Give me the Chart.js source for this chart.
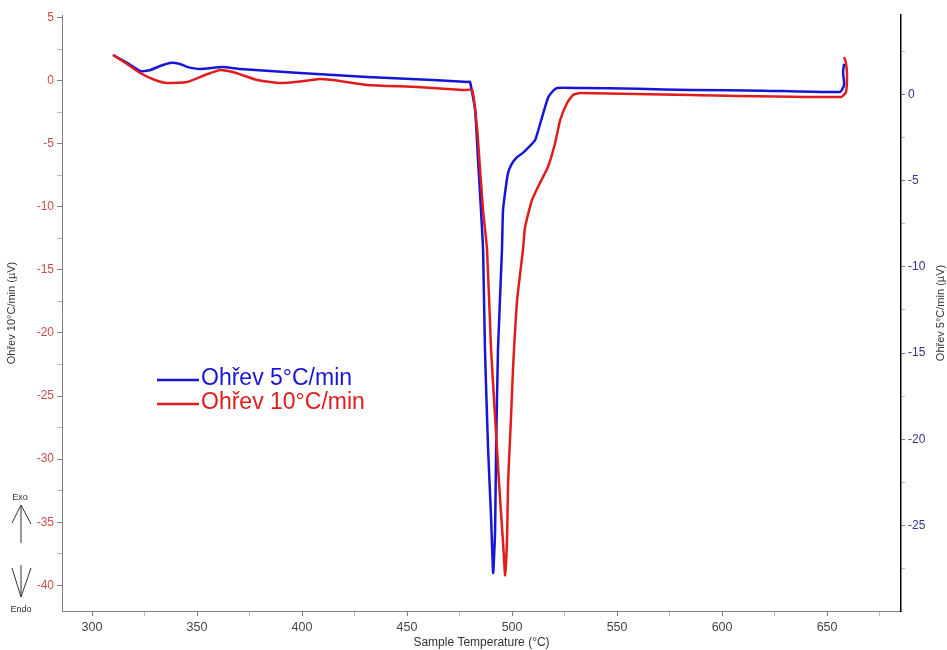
<!DOCTYPE html>
<html>
<head>
<meta charset="utf-8">
<script src="https://cdn.jsdelivr.net/npm/chart.js@4/dist/chart.umd.min.js"></script>
<style>
  html, body { margin: 0; padding: 0; background: #fff; }
  #wrap { width: 947px; height: 650px; }
</style>
</head>
<body>
<div id="wrap"><canvas id="dsc"></canvas></div>
<script>
// Heating at 5 °C/min (right axis, µV)
const tempBlue = [310, 316.7, 322.9, 327.6, 332.4, 337.1, 341.9, 345.2, 351.4, 362.4, 370.5, 399, 431, 462.4, 479,
  480, 482.4, 483.8, 485.2, 486.2, 487.1, 488.6, 490, 491, 491.9, 492.4, 493.3, 495.2, 495.7, 497, 498.1, 500, 502.4,
  505, 507.6, 511, 514.3, 517.1, 519.5, 521.4, 532.4, 560, 585, 620, 656.2, 658.1, 657.6, 658.1];
const valBlue = [2.29, 1.83, 1.36, 1.41, 1.65, 1.83, 1.77, 1.60, 1.48, 1.60, 1.48, 1.25, 1.02, 0.84, 0.73,
  0.73, -0.90, -3.8, -6.7, -9.0, -14.8, -20.6, -24.5, -27.75, -25.4, -20.6, -14.8, -9.0, -6.7, -5.4, -4.55, -4.0, -3.63,
  -3.4, -3.10, -2.64, -1.31, -0.20, 0.20, 0.38, 0.38, 0.33, 0.26, 0.22, 0.15, 0.55, 1.3, 1.77];

// Heating at 10 °C/min (left axis, µV)
const tempRed = [310, 316.7, 322.9, 330, 335.7, 345.2, 353.8, 361, 367.1, 378.6, 389.5, 399, 408.6, 418, 431,
  454.8, 476.7, 481, 483.3, 484.8, 486.2, 488.1, 490, 491.9, 493.8, 495.7, 496.7, 497.6, 498.1, 499.5, 500.5,
  502.4, 505.2, 506.2, 509.5, 513.3, 517.1, 520.5, 522.9, 526.2, 529, 532.4, 585, 656.7, 659, 659.5, 659, 658.1];
const valRed = [2.04, 1.32, 0.61, 0.06, -0.18, -0.10, 0.45, 0.85, 0.69, 0.06, -0.18, -0.06, 0.13, -0.02, -0.34,
  -0.50, -0.74, -0.74, -3.67, -7.1, -10.3, -13.4, -21.3, -26.6, -31.9, -36.6, -39.2, -36.4, -31.9, -26.7, -22.7,
  -17.4, -13.4, -11.6, -9.45, -8.1, -6.84, -4.94, -3.12, -1.77, -1.13, -0.98, -1.13, -1.29, -0.9, 0.45, 1.4, 1.88];

// tick positions (labels only on the major ones)
const xTicks = [300, 325, 350, 375, 400, 425, 450, 475, 500, 525, 550, 575, 600, 625, 650, 675];
const yLeftTicks = [-40, -37.5, -35, -32.5, -30, -27.5, -25, -22.5, -20, -17.5, -15, -12.5, -10, -7.5, -5, -2.5, 0, 2.5, 5];
const yRightTicks = [-27.5, -25, -22.5, -20, -17.5, -15, -12.5, -10, -7.5, -5, -2.5, 0, 2.5];

const seriesNames = ["Ohřev 5°C/min", "Ohřev 10°C/min"];
const xTitle = "Sample Temperature (°C)";
const yLeftTitle = "Ohřev 10°C/min (µV)";
const yRightTitle = "Ohřev 5°C/min (µV)";

const BLUE = "#1616d4";
const RED = "#e01c1c";
const FONT = "'Liberation Sans', Arial, sans-serif";

const toPoints = (xs, ys) => xs.map((x, i) => ({ x, y: ys[i] }));
const setTicks = (values) => (scale) => { scale.ticks = values.map((value) => ({ value })); };
const isMajor = (v, step) => Math.abs(v % step) < 0.01;
const minorColor = (step) => (ctx) => (isMajor(ctx.tick.value, step) ? "#808080" : "#b8b8b8");

// draws the in-plot legend, the Exo/Endo arrows and the right axis title
const extras = {
  id: "extras",
  afterDraw(chart) {
    const ctx = chart.ctx;
    ctx.save();
    // legend
    ctx.font = "23px " + FONT;
    ctx.textBaseline = "middle";
    ctx.textAlign = "left";
    [[BLUE, 379], [RED, 403]].forEach(([c, y], i) => {
      ctx.strokeStyle = c;
      ctx.lineWidth = 2.5;
      ctx.beginPath();
      ctx.moveTo(157, y + 1);
      ctx.lineTo(199, y + 1);
      ctx.stroke();
      ctx.fillStyle = c;
      ctx.fillText(seriesNames[i], 201, y);
    });
    // exo / endo markers
    ctx.fillStyle = "#333";
    ctx.font = "9px " + FONT;
    ctx.textAlign = "center";
    ctx.fillText("Exo", 20, 498);
    ctx.fillText("Endo", 21, 610);
    ctx.strokeStyle = "#333";
    ctx.lineWidth = 1;
    ctx.beginPath();
    ctx.moveTo(21, 543); ctx.lineTo(21, 506);
    ctx.moveTo(12, 523); ctx.lineTo(21, 505); ctx.lineTo(31, 524);
    ctx.moveTo(21, 565); ctx.lineTo(21, 597);
    ctx.moveTo(12, 568); ctx.lineTo(21, 597); ctx.lineTo(31, 568);
    ctx.stroke();
    // right axis title, reads bottom to top like the left one
    const area = chart.chartArea;
    ctx.translate(941, (area.top + area.bottom) / 2);
    ctx.rotate(-Math.PI / 2);
    ctx.font = "11px " + FONT;
    ctx.fillStyle = "#333";
    ctx.textAlign = "center";
    ctx.fillText(yRightTitle, 0, 0);
    ctx.restore();
  },
};

new Chart(document.getElementById("dsc"), {
  type: "line",
  data: {
    datasets: [
      {
        label: seriesNames[0],
        data: toPoints(tempBlue, valBlue),
        yAxisID: "y1",
        borderColor: BLUE,
        borderWidth: 2.5,
        pointRadius: 0,
        tension: 0.15,
        order: 1,
      },
      {
        label: seriesNames[1],
        data: toPoints(tempRed, valRed),
        yAxisID: "y",
        borderColor: RED,
        borderWidth: 2.5,
        pointRadius: 0,
        tension: 0.15,
        order: 0,
      },
    ],
  },
  options: {
    responsive: true,
    maintainAspectRatio: false,
    animation: false,
    layout: { padding: { top: 15, left: 0, right: 0, bottom: 0 } },
    plugins: { legend: { display: false }, tooltip: { enabled: false } },
    scales: {
      x: {
        type: "linear",
        min: 285.7,
        max: 685.2,
        afterBuildTicks: setTicks(xTicks),
        afterFit: (s) => { s.height = 39; },
        border: { color: "#808080", width: 1 },
        grid: { drawOnChartArea: false, tickLength: 5, tickColor: minorColor(50) },
        ticks: {
          autoSkip: false,
          maxRotation: 0,
          padding: 4,
          color: "#444",
          font: { family: FONT, size: 12.5 },
          callback: (v) => (isMajor(v, 50) ? v : ""),
        },
        title: { display: true, text: xTitle, color: "#333", font: { family: FONT, size: 12 }, padding: 0 },
      },
      y: {
        position: "left",
        min: -42.04,
        max: 5.21,
        afterBuildTicks: setTicks(yLeftTicks),
        afterFit: (s) => { s.width = 62; },
        border: { color: "#808080", width: 1 },
        grid: { drawOnChartArea: false, tickLength: 5, tickColor: minorColor(5) },
        ticks: {
          autoSkip: false,
          padding: 3,
          color: "#cc4c4c",
          font: { family: FONT, size: 12 },
          callback: (v) => (isMajor(v, 5) ? v : ""),
        },
        title: { display: true, text: yLeftTitle, color: "#333", font: { family: FONT, size: 11 }, padding: { top: 5, bottom: 0 } },
      },
      y1: {
        position: "right",
        min: -29.96,
        max: 4.61,
        afterBuildTicks: setTicks(yRightTicks),
        afterFit: (s) => { s.width = 46; },
        border: { color: "#000", width: 1.5 },
        grid: { drawOnChartArea: false, tickLength: 4, tickColor: minorColor(5) },
        ticks: {
          autoSkip: false,
          padding: 3,
          color: "#35358a",
          font: { family: FONT, size: 12 },
          callback: (v) => (isMajor(v, 5) ? v : ""),
        },
      },
    },
  },
  plugins: [extras],
});
</script>
</body>
</html>
